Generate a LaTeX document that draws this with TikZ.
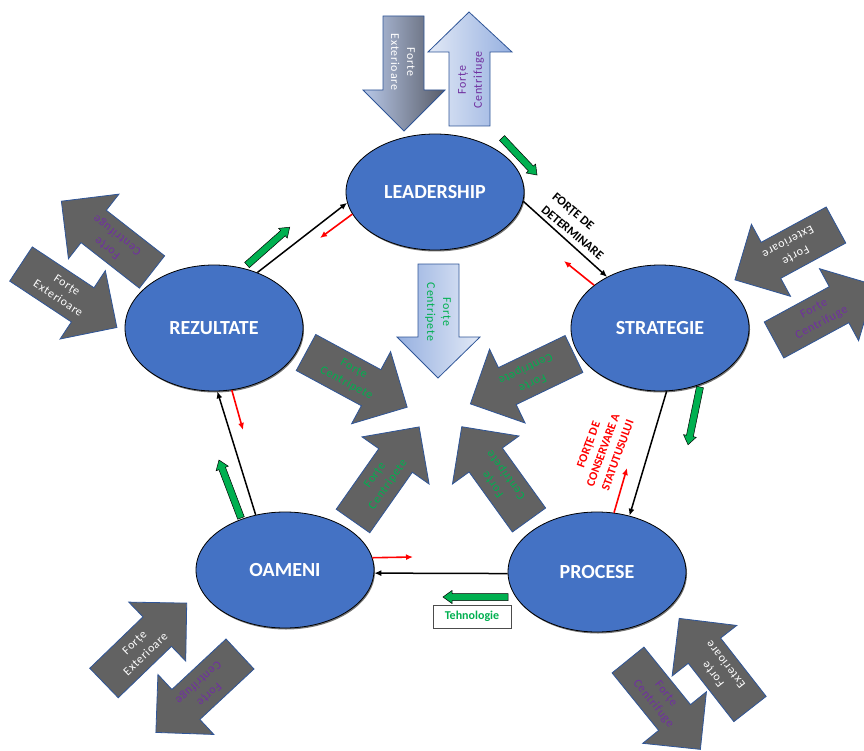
\documentclass[tikz,border=0pt]{standalone}
\usepackage{fontspec}
\setmainfont{Carlito}
\newfontfamily\lblface[LetterSpace=6]{Carlito}
\usetikzlibrary{arrows.meta,shapes.geometric,shadows}

\definecolor{ellfill}{RGB}{68,114,196}
\definecolor{arrgray}{RGB}{98,98,98}
\definecolor{arredge}{RGB}{47,85,151}
\definecolor{purp}{RGB}{112,48,160}
\definecolor{grn}{RGB}{0,176,80}
\definecolor{lightblue}{RGB}{184,200,232}
\definecolor{steel}{RGB}{88,92,104}
\definecolor{paleblue}{RGB}{226,233,246}
\definecolor{midblue}{RGB}{150,176,224}

\newcommand{\lblfont}{\lblface\fontsize{12}{16}\selectfont}

\tikzset{
  stage/.style={ellipse, draw=black, line width=0.8pt, fill=ellfill, text=white,
    font=\fontsize{20}{22}\selectfont\bfseries, minimum width=178pt, inner sep=0pt,
    drop shadow={shadow xshift=1pt, shadow yshift=-1.5pt, fill=black, opacity=0.55}},
  conn/.style={line width=1.5pt, -{Latex[length=7pt,width=6pt]}},
  fb/.style={red, line width=1.6pt, -{Latex[length=7pt,width=6pt]}},
  grayarr/.style={draw=arredge, fill=arrgray, line width=0.8pt},
  greenarr/.style={draw=black, fill=grn, line width=0.5pt},
  toparr/.style={draw=arredge, line width=0.8pt},
  pics/bigarrow/.style args={#1/#2/#3}{code={
    \draw[pic actions] (0,-20.5) -- (74,-20.5) -- (74,-41) -- (115,0) -- (74,41)
      -- (74,20.5) -- (0,20.5) -- cycle;
    \node[transform shape, text=#1, font=\lblfont, align=center, inner sep=0pt]
      (-t) at (50,0) {#2\\#3};
  }},
  pics/smallarrow/.style={code={
    \draw[pic actions] (0,-3.5) -- ({#1-9},-3.5) -- ({#1-9},-6.5) -- (#1,0)
      -- ({#1-9},6.5) -- ({#1-9},3.5) -- (0,3.5) -- cycle;
  }}
}

\begin{document}
\begin{tikzpicture}[x=1pt,y=-1pt]
\useasboundingbox (0,0) rectangle (864,751);
\clip (0,0) rectangle (864,751);

% vertical arrows at the top and in the middle
\path[toparr, left color=lightblue, right color=steel]
  (383,16) -- (424,16) -- (424,90) -- (445,90) -- (404,131) -- (363,90) -- (383,90) -- cycle;
\node[rotate=-90, text=white, font=\lblfont, align=center, inner sep=0pt] (ext0) at (403,62) {Forte\\Exterioare};

\path[toparr, left color=paleblue, right color=midblue]
  (449,126) -- (490,126) -- (490,52) -- (512,52) -- (469,12) -- (428,52) -- (449,52) -- cycle;
\node[rotate=90, text=purp, font=\lblfont, align=center, inner sep=0pt] (cfg0) at (471,80) {Forțe\\Centrifuge};

\path[toparr, left color=midblue, right color=paleblue]
  (418,264) -- (459,264) -- (459,337) -- (480,337) -- (438,378) -- (397,337) -- (418,337) -- cycle;
\node[rotate=-90, text=grn, font=\lblfont, align=center, inner sep=0pt] (cpt0) at (438,312) {Forțe\\Centripete};

% centripetal forces pointing to the centre
\pic[grayarr, rotate=-28.4] (cpt1) at (306,352.5) {bigarrow=grn/Forțe/Centripete};
\pic[grayarr, rotate=205.7] (cpt2) at (574,354) {bigarrow=grn/Forțe/Centripete};
\pic[grayarr, rotate=54.9] (cpt3) at (353,521) {bigarrow=grn/Forțe/Centripete};
\pic[grayarr, rotate=125.8] (cpt4) at (529,520) {bigarrow=grn/Forțe/Centripete};

% outer pairs of forces
\pic[grayarr, rotate=142] (cfg1) at (152,272) {bigarrow=purp/Forțe/Centrifuge};
\pic[grayarr, rotate=-33.5] (ext1) at (21,264) {bigarrow=white/Forțe/Exterioare};
\pic[grayarr, rotate=208.5] (ext2) at (836,225) {bigarrow=white/Forțe/Exterioare};
\pic[grayarr, rotate=28.5] (cfg2) at (774,340) {bigarrow=purp/Forțe/Centrifuge};
\pic[grayarr, rotate=44] (ext3) at (104,683) {bigarrow=white/Forțe/Exterioare};
\pic[grayarr, rotate=223] (cfg3) at (240,654) {bigarrow=purp/Forțe/Centrifuge};
\pic[grayarr, rotate=-51] (cfg4) at (628,660) {bigarrow=purp/Forțe/Centrifuge};
\pic[grayarr, rotate=128] (ext4) at (750,709) {bigarrow=white/Forțe/Exterioare};

% the five stages
\node[stage, minimum height=116pt] (lead) at (435,192) {LEADERSHIP};
\node[stage, minimum height=126pt] (strat) at (660,328) {STRATEGIE};
\node[stage, minimum height=126pt] (rez) at (214,328) {REZULTATE};
\node[stage, minimum height=116pt] (oam) at (285,570) {OAMENI};
\node[stage, minimum height=120pt] (proc) at (597,572) {PROCESE};

% main cycle
\draw[conn] (rez.52.8) -- (lead.187.4);
\draw[conn] (lead.-6.3) -- (strat.136);
\draw[conn] (strat.-84) -- (proc.60.6);
\draw[conn] (proc.181) -- (oam.-2.6);
\draw[conn] (oam.118) -- (rez.-87.4);

% feedback arrows
\coordinate (r1) at (320,238);
\coordinate (r2) at (564,261);
\coordinate (r3) at (243,430);
\coordinate (r4) at (627,468);
\coordinate (r5) at (413,557);
\draw[fb] (lead.195.5) -- (r1);
\draw[fb] (strat.147.7) -- (r2);
\draw[fb] (rez.-74.5) -- (r3);
\draw[fb] (proc.74.4) -- (r4);
\draw[fb] (oam.8.7) -- (r5);

% green flow arrows
\pic[greenarr, rotate=-46.6] at (502,138) {smallarrow=51};
\pic[greenarr, rotate=41.5] at (247,265) {smallarrow=57};
\pic[greenarr, rotate=-101.7] at (700,387) {smallarrow=59};
\pic[greenarr, rotate=110.8] at (241,518) {smallarrow=62};
\pic[greenarr, rotate=180] at (508,597) {smallarrow=65};

% labels
\node[rotate=-40, align=left, font=\fontsize{12.5}{17}\selectfont\bfseries, inner sep=0pt]
  (det) at (578,226) {FORȚE DE\\DETERMINARE};
\node[rotate=70, align=center, text=red, font=\fontsize{12}{15.5}\selectfont\bfseries, inner sep=0pt]
  (cons) at (603,450) {FORȚE DE\\CONSERVARE A\\STATUTUSULUI};
\node[draw=black!70, fill=white, line width=0.8pt, minimum width=78pt, minimum height=23pt,
  text=grn, font=\fontsize{12}{14}\selectfont\bfseries, inner sep=0pt]
  (teh) at (472,616.5) {Tehnologie};
\end{tikzpicture}
\end{document}
